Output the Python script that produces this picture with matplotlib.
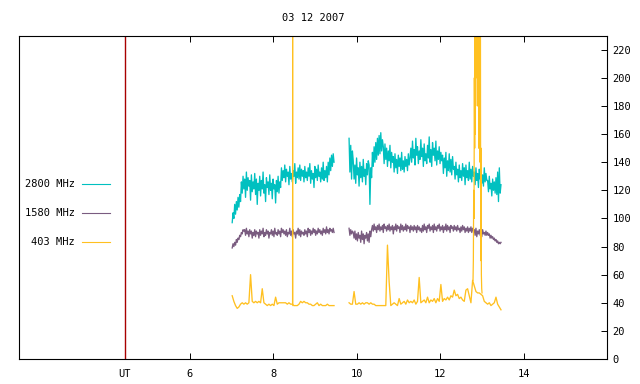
import numpy as np
import matplotlib
matplotlib.use("Agg")
import matplotlib.pyplot as plt
from matplotlib.lines import Line2D

# two recording segments (hours UT)
seg1_start = 7.02
seg2_start = 9.82
step_hi = 0.02    # 2800 / 1580 sampling
step_lo = 0.04    # 403 sampling

# 2800 MHz flux
f2800_a = [97, 104, 100, 110, 103, 112, 106, 115, 108, 117, 112,
           126, 118, 130, 121, 128, 115, 133, 120, 129, 123, 127, 113,
           131, 119, 126, 121, 132, 117, 128, 110, 125, 120, 130, 116,
           127, 121, 133, 118, 124, 112, 129, 122, 126, 117, 131, 120,
           125, 114, 128, 121, 124, 111, 127, 119, 130, 118, 126, 122,
           136, 127, 134, 129, 138, 126, 135, 130, 133, 124, 137, 128, 132, 126,
           134, 130, 139, 125, 133, 129, 136, 128, 138, 127, 135, 130, 134, 126,
           137, 129, 133, 127, 136, 130, 139, 125, 134, 128, 132, 122, 137, 129,
           135, 127, 138, 130, 133, 126, 136, 128, 140, 127, 134, 129, 137, 126,
           140, 131, 143, 134, 145, 137, 146, 140]
f2800_b = [157, 133, 152, 128, 148,
           141, 128, 138, 125, 143, 131, 136, 123, 140, 129, 137, 126, 142, 130,
           135, 124, 139, 131, 141,
           138, 110, 136, 129,
           147, 137, 151, 140, 154, 142, 157, 145, 159, 146, 161, 148, 156,
           151, 139, 153, 142, 150, 137, 148, 141, 152, 136, 147, 140,
           144, 133, 146, 136, 142, 132, 145, 137, 143, 134, 147, 135, 141, 133,
           144, 137, 142, 134, 146, 138, 143,
           150, 140, 155, 143, 149, 138, 157, 145, 151, 139, 148, 142, 156, 144,
           150, 137, 153, 141, 146, 139, 152, 143, 158, 140, 149, 137, 154, 145,
           150, 141, 155, 138, 148, 142, 151, 139, 147, 141,
           145, 132, 143, 136, 147, 130, 141, 134, 146, 133, 142, 131, 144, 135,
           137, 128, 140, 131, 135, 126, 138, 129, 134, 127, 139, 130,
           136, 124, 138, 129, 134, 127, 140, 128, 135, 126, 137, 130,
           133, 124, 136, 127, 132, 122, 135, 128, 134, 125, 131, 123, 136, 126,
           132, 127,
           127, 119, 130, 121, 125, 116, 128, 120, 126, 118, 129, 117,
           133, 112, 136, 118, 124]

# 1580 MHz flux
f1580_a = [79, 82, 80, 83, 81, 85, 83, 86, 85, 88, 87, 90, 89, 92, 91,
           92, 88, 93, 89, 91, 87, 92, 89, 91, 86, 90, 88, 92, 87, 91, 89, 90, 86,
           92, 88, 91, 89, 93, 87, 90, 88, 92, 89, 91, 86, 90, 89, 92, 88, 91, 87,
           93, 89, 90, 88, 92, 89, 91, 87, 93, 90, 92, 89, 91, 88, 92, 87, 90, 89,
           93, 88, 91, 87, 92, 89, 90, 86, 91, 89, 93, 88, 92, 87, 91, 89, 90, 88,
           92, 89, 91, 87, 93, 90, 92, 88, 91, 89, 93, 90, 92, 88, 91, 89, 93, 90,
           92, 89, 91, 88, 93, 90, 92, 89, 94, 90, 92, 89, 93, 91, 92, 90, 93, 90]
f1580_b = [93, 88, 92, 89, 91,
           90, 86, 91, 85, 89, 84, 90, 86, 88, 83, 91, 85, 89, 82, 88, 86, 90, 84,
           89, 83, 91, 87, 92,
           95, 91, 96, 92, 94, 90, 95, 92, 96, 91, 94, 92, 95, 90, 96, 93, 94, 91,
           95, 92, 96, 91, 94, 92, 95, 89, 94, 92, 96, 91, 95, 93, 94, 90, 96, 92,
           95, 91, 94, 92, 96, 91, 95, 93, 94, 90, 95, 92, 94, 91, 95, 92, 94, 90,
           95, 92, 94, 91, 93, 90, 95, 91, 96, 92, 94, 90, 95, 93, 96, 91, 94, 92,
           95, 90, 96, 92, 94, 91, 95, 93, 96, 91, 94, 92, 95, 90, 94, 92, 96, 91,
           95, 92, 94, 90, 95, 93, 94, 91, 95, 92, 94, 91, 95, 92, 93, 90, 94, 91,
           95, 92, 94, 90, 93, 91, 94, 90, 93, 91, 94, 90, 93, 91,
           92, 88, 93, 87, 91, 89, 92, 88, 91, 87, 92, 89, 90, 88, 91, 88,
           90, 88, 89, 86, 88, 86, 87, 85, 86, 84, 85, 83, 84, 82, 83, 82, 83]

# 403 MHz flux
f403_a = [45, 41, 38, 36, 37, 39, 40, 39, 40, 39,
          40, 60, 41, 40, 41, 40, 41, 40, 50, 40,
          39, 38, 39, 38, 39, 38, 44, 39, 40, 40,
          40, 40, 40, 39, 40, 39, 39, 38, 38, 38,
          39, 41, 40, 41, 40, 40, 39, 39, 38, 38,
          39, 40, 38, 39, 38, 38, 38, 39, 38, 38,
          38, 38]
f403_b = [40, 39, 39, 48, 39, 39, 40, 39, 40, 39,
          40, 40, 39, 40, 39, 39, 38, 38, 38, 38,
          38, 38, 38, 81, 55, 38, 39, 40, 39, 38,
          43, 39, 40, 41, 39, 42, 40, 41, 40, 42,
          39, 41, 58, 40, 41, 42, 40, 44, 40, 42,
          41, 43, 40, 43, 41, 53, 41, 43, 42, 44,
          42, 45, 44, 49, 45, 46, 43, 44, 42, 41,
          49, 50, 45, 40, 56, 52, 48, 47, 47, 46,
          45, 41, 40, 39, 40, 38, 39, 40, 44, 39,
          37, 35]
# narrow 403 MHz spike near 8.47 UT
spike_start = 8.465
spike_step = 0.004
f403_spike = [39, 400, 38]
# the 403 MHz burst, finer sampling
burst_start = 12.79
burst_step = 0.008
f403_burst = [56, 70, 120, 100, 200, 150, 400, 160, 420, 200,
              400, 250, 420, 180, 400, 300, 420, 150, 380, 260,
              400, 140, 300, 70, 150, 60, 50, 47]

series = [
    ("2800 MHz", f2800_a, f2800_b, step_hi, "#00c0c0"),
    ("1580 MHz", f1580_a, f1580_b, step_hi, "#7a5c80"),
    ("403 MHz", f403_a, f403_b, step_lo, "#ffc020"),
]

ut_mark = 4.44
xticks = [ut_mark, 6, 8, 10, 12, 14]
xticklabels = ["UT", "6", "8", "10", "12", "14"]
yticks = list(range(0, 221, 20))

plt.rcParams['font.family'] = ['DejaVu Sans Mono']

fig = plt.figure(figsize=(6.4, 3.84), dpi=100)
W, H = 640, 384
ax = fig.add_axes([18.5 / W, 1 - 359 / H, (607 - 18.5) / W, (359 - 35.7) / H])

for name, va, vb, st, col in series:
    ta = seg1_start + st * np.arange(len(va))
    tb = seg2_start + st * np.arange(len(vb))
    ax.plot(ta, va, color=col, lw=0.95)
    ax.plot(tb, vb, color=col, lw=0.95)

tspike = spike_start + spike_step * np.arange(len(f403_spike))
ax.plot(tspike, f403_spike, color="#ffc020", lw=0.8)
tburst = burst_start + burst_step * np.arange(len(f403_burst))
ax.plot(tburst, f403_burst, color="#ffc020", lw=0.9)

ax.axvline(ut_mark, color="#a80000", lw=1.0)

ax.set_xlim(1.9, 16.0)
ax.set_ylim(0, 230)
ax.set_xticks(xticks)
ax.set_xticklabels(xticklabels)
ax.set_yticks(yticks)
ax.yaxis.tick_right()
ax.tick_params(axis='x', direction='in', top=True, bottom=True, length=4,
               width=0.7, pad=7, labelsize=7.5)
ax.tick_params(axis='y', direction='in', left=False, right=True, length=4,
               width=0.7, pad=4, labelsize=7.5)
for s in ax.spines.values():
    s.set_linewidth(0.8)

fig.text(313 / W, 1 - 18 / H, "03 12 2007", ha="center", va="center", fontsize=7.5)

# legend on the left, text before sample line (gnuplot style)
for k, (name, va, vb, st, col) in enumerate(series):
    yy = 1 - (184 + 29 * k) / H
    fig.text(75 / W, yy, name, ha="right", va="center", fontsize=7.5)
    fig.add_artist(Line2D([82 / W, 110 / W], [yy, yy], color=col, lw=0.8,
                          transform=fig.transFigure))

fig.savefig("out.png", dpi=100)
